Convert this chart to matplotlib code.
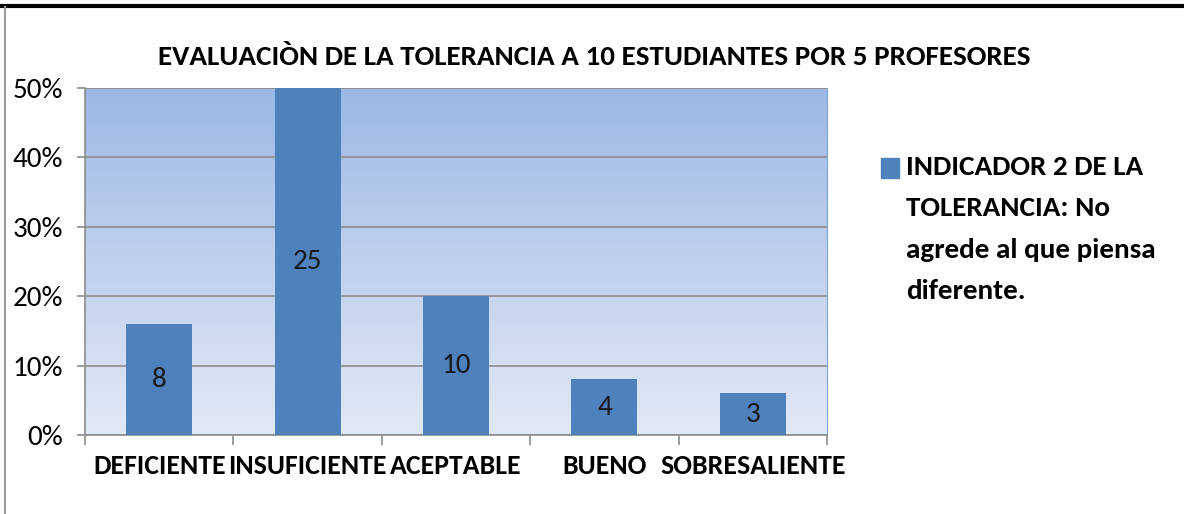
import numpy as np
import matplotlib.pyplot as plt
from matplotlib.lines import Line2D
from matplotlib.patches import Rectangle

# datos de la encuesta
categorias = ['DEFICIENTE', 'INSUFICIENTE', 'ACEPTABLE', 'BUENO', 'SOBRESALIENTE']
conteos = [8, 25, 10, 4, 3]
total = 50
porcentajes = [c / total * 100 for c in conteos]
titulo = 'EVALUACIÒN DE LA TOLERANCIA A 10 ESTUDIANTES POR 5 PROFESORES'
leyenda = 'INDICADOR 2 DE LA\nTOLERANCIA: No\nagrede al que piensa\ndiferente.'

plt.rcParams['font.family'] = ['Carlito', 'DejaVu Sans']

fig = plt.figure(figsize=(11.84, 5.14), dpi=100)
ax = fig.add_axes([85 / 1184, 1 - 435 / 514, 742 / 1184, 347 / 514])

# fondo degradado del area de trazado
grad = np.linspace(0, 1, 256).reshape(-1, 1)
c_arriba = np.array([157, 184, 228]) / 255
c_abajo = np.array([226, 233, 246]) / 255
img = c_arriba + (c_abajo - c_arriba) * grad[:, :, None]
ax.imshow(img, extent=[-0.5, 4.5, 0, 50], aspect='auto', zorder=0, origin='upper')

x = np.arange(len(categorias))
barras = ax.bar(x, porcentajes, width=0.445, color='#4F81BD', zorder=3)
for b, c in zip(barras, conteos):
    ax.text(b.get_x() + b.get_width() / 2, b.get_height() / 2, str(c),
            ha='center', va='center', fontsize=21, color='#1a1a1a', zorder=4)

ax.set_xlim(-0.5, 4.5)
ax.set_ylim(0, 50)
ax.set_yticks(range(0, 51, 10))
ax.set_yticklabels([f'{v}%' for v in range(0, 51, 10)], fontsize=21)
ax.yaxis.grid(True, color='#8c8c8c', lw=1.2, zorder=1)
ax.set_axisbelow(False)

ax.set_xticks(x)
ax.set_xticklabels(categorias, fontsize=20, fontweight='bold')
ax.tick_params(axis='x', length=0, pad=14)
ax.set_xticks(np.arange(-0.5, 5, 1), minor=True)
ax.tick_params(axis='x', which='minor', length=7, color='#8c8c8c', width=1.2)
ax.tick_params(axis='y', length=6, color='#8c8c8c', width=1.2, pad=10)

ax.spines['top'].set_visible(False)
ax.spines['left'].set_color('#8c8c8c')
ax.spines['bottom'].set_color('#8c8c8c')
ax.spines['right'].set_color('#7f9fd0')
ax.spines['left'].set_linewidth(1.2)
ax.spines['bottom'].set_linewidth(1.2)

fig.text(594 / 1184, 1 - 57 / 514, titulo, ha='center', va='center',
         fontsize=21, fontweight='bold')

# leyenda
fig.add_artist(Rectangle((881 / 1184, 1 - 178 / 514), 18 / 1184, 20 / 514,
                         transform=fig.transFigure, color='#4F81BD'))
fig.text(906 / 1184, 1 - 155 / 514, leyenda, ha='left', va='top',
         fontsize=21, fontweight='bold', linespacing=1.87)

# marco exterior
fig.add_artist(Line2D([0, 1], [1 - 6 / 514, 1 - 6 / 514], color='black', lw=3))
fig.add_artist(Line2D([5 / 1184, 5 / 1184], [0, 1 - 7 / 514], color='#9a9a9a', lw=1.5))

fig.savefig('out.png', dpi=100)
